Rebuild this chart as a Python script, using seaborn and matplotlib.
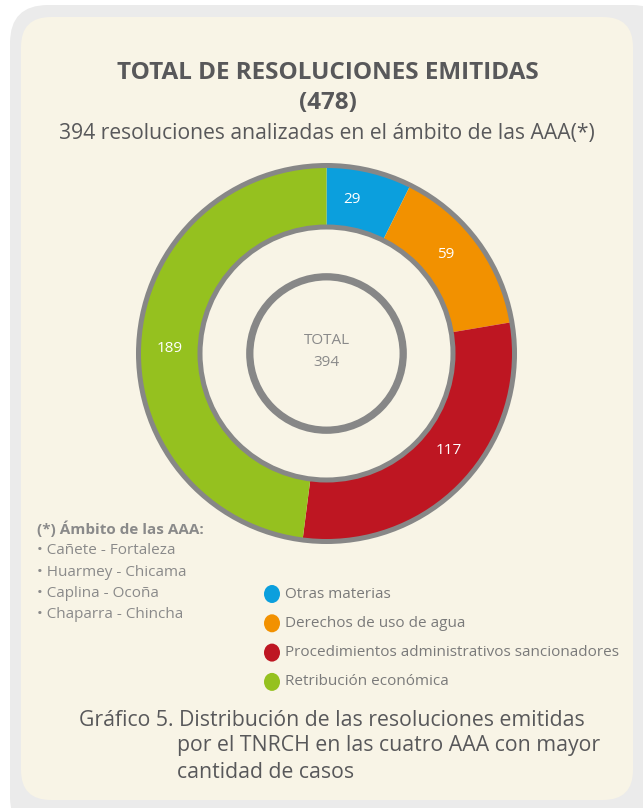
import matplotlib
matplotlib.use("Agg")
import matplotlib.pyplot as plt
import seaborn as sns
from matplotlib.patches import FancyBboxPatch, Circle, Ellipse

categories = ["Otras materias", "Derechos de uso de agua",
              "Procedimientos administrativos sancionadores", "Retribución económica"]
values = [29, 59, 117, 189]
colors = ["#0b9fdd", "#f29100", "#be1622", "#95c11f"]
notes = ["Cañete - Fortaleza", "Huarmey - Chicama", "Caplina - Ocoña", "Chaparra - Chincha"]

sns.set_theme(style="white")
plt.rcParams['font.family'] = ['Open Sans', 'DejaVu Sans']

W, H = 643, 808
fig = plt.figure(figsize=(W/100, H/100), dpi=100, facecolor="white")

def fx(x): return x / W
def fy(y): return 1 - y / H

# background panels
bg = fig.add_axes([0, 0, 1, 1])
bg.set_xlim(0, W); bg.set_ylim(H, 0); bg.axis("off")
bg.add_patch(FancyBboxPatch((10, 5), 660, 830, boxstyle="round,pad=0,rounding_size=38",
                            fc="#ebebeb", ec="none"))
bg.add_patch(FancyBboxPatch((21, 17), 612, 783, boxstyle="round,pad=0,rounding_size=30",
                            fc="#f8f4e6", ec="none"))

# donut
cx, cy, R = 326.5, 353.5, 188
R_in = 126.5
half = 200
px2pt = 72 / 100
ax = fig.add_axes([fx(cx - half), fy(cy + half), 2*half/W, 2*half/H])
wedges, _ = ax.pie(values, colors=colors, startangle=90, counterclock=False, radius=1,
                   wedgeprops=dict(width=1 - R_in/R, edgecolor="none"))
lim = half / R
ax.set_xlim(-lim, lim); ax.set_ylim(-lim, lim); ax.axis("off")
ax.add_patch(Circle((0, 0), 1.0, fill=False, ec="#878787", lw=5*px2pt))
ax.add_patch(Circle((0, 0), R_in/R, fill=False, ec="#878787", lw=5*px2pt))
ax.add_patch(Circle((0, 0), 76.7/R, fill=False, ec="#878787", lw=7.3*px2pt))
ax.text(0, (cy - 341)/R, "TOTAL", ha="center", va="center", fontsize=11, color="#8a8a8a")
ax.text(0, (cy - 362)/R, "394", ha="center", va="center", fontsize=11, color="#8a8a8a")

# value labels (pixel positions)
lab_pos = [(351.7, 199.3), (445.7, 254), (448.3, 451), (169.3, 349)]
for (px, py), v in zip(lab_pos, values):
    ax.text((px - cx) / R, (cy - py) / R, str(v), ha="center", va="center",
            fontsize=11, color="white")

# titles
fig.text(fx(328), fy(73), "TOTAL DE RESOLUCIONES EMITIDAS", ha="center", va="center",
         fontsize=17.5, fontweight="bold", color="#58585a")
fig.text(fx(328), fy(103), "(478)", ha="center", va="center",
         fontsize=17.5, fontweight="bold", color="#58585a")
fig.text(fx(327), fy(134), "394 resoluciones analizadas en el ámbito de las AAA(*)",
         ha="center", va="center", fontsize=15.2, color="#58585a")

# notes
fig.text(fx(37), fy(529), "(*) Ámbito de las AAA:", ha="left", va="center",
         fontsize=11, fontweight="bold", color="#8a8a8a")
for i, n in enumerate(notes):
    fig.text(fx(37), fy(551 + 21.3*i), "• " + n, ha="left", va="center",
             fontsize=11, color="#8a8a8a")

# legend
for i, (c, lab) in enumerate(zip(colors, categories)):
    y = 594 + 29.3*i
    bg.add_patch(Ellipse((272, y), 16, 18, fc=c, ec="none"))
    fig.text(fx(285), fy(y), lab, ha="left", va="center", fontsize=11, color="#7a7a7a")

# caption
fig.text(fx(79), fy(720), "Gráfico 5. Distribución de las resoluciones emitidas",
         ha="left", va="center", fontsize=15.3, color="#58585a")
fig.text(fx(177), fy(746), "por el TNRCH en las cuatro AAA con mayor",
         ha="left", va="center", fontsize=15.3, color="#58585a")
fig.text(fx(177), fy(772), "cantidad de casos",
         ha="left", va="center", fontsize=15.3, color="#58585a")

fig.savefig("out.png", dpi=100, facecolor="white")
